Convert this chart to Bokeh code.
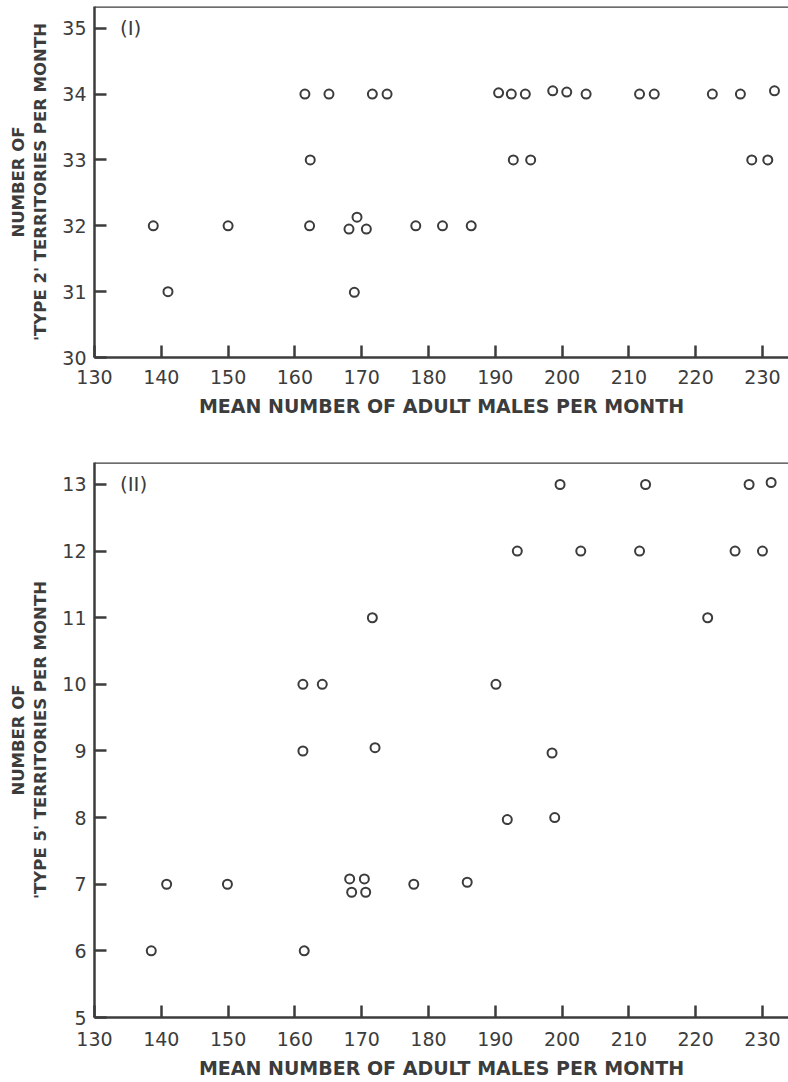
from bokeh.plotting import figure
from bokeh.layouts import column
from bokeh.models import Label, Span, FixedTicker
from bokeh.embed import file_html
from bokeh.resources import INLINE

# Panel (I): 'Type 2' territories
males_1 = [138.8, 141.0, 150.0, 161.5, 162.2, 162.3, 165.1, 168.1, 168.9, 169.3,
           170.7, 171.6, 173.8, 178.1, 182.1, 186.4, 190.5, 192.4, 192.7, 194.5,
           195.3, 198.6, 200.7, 203.6, 211.6, 213.8, 222.5, 226.7, 228.4, 230.8, 231.8]
type2 = [32, 31, 32, 34, 32, 33, 34, 31.95, 30.99, 32.13,
         31.95, 34, 34, 32, 32, 32, 34.02, 34, 33, 34,
         33, 34.05, 34.03, 34, 34, 34, 34, 34, 33, 33, 34.05]

# Panel (II): 'Type 5' territories
males_2 = [138.5, 140.8, 149.9, 161.2, 161.2, 161.4, 164.1, 168.2, 168.5, 170.4,
           170.6, 171.6, 172.0, 177.8, 185.8, 190.1, 191.8, 193.3, 198.5, 198.9,
           199.7, 202.8, 211.6, 212.5, 221.8, 225.9, 228.0, 230.0, 231.3]
type5 = [6, 7, 7, 10, 9, 6, 10, 7.08, 6.88, 7.08,
         6.88, 11, 9.05, 7, 7.03, 10, 7.97, 12, 8.97, 8,
         13, 12, 12, 13, 11, 12, 13, 12, 13.03]

x_ticks = [130, 140, 150, 160, 170, 180, 190, 200, 210, 220, 230]
y_ticks_1 = [30, 31, 32, 33, 34, 35]
y_ticks_2 = [5, 6, 7, 8, 9, 10, 11, 12, 13]

INK = "#3c3c3c"
FONT = "DejaVu Sans"


def make_panel(xs, ys, yrange, yticks, ylabel, tag, tag_y, height, top, bottom,
               xl_standoff, xt_standoff):
    p = figure(width=788, height=height, x_range=(130, 233.9), y_range=yrange,
               output_backend="svg", toolbar_location=None,
               min_border_left=94, min_border_right=0,
               min_border_top=top, min_border_bottom=bottom)
    p.outline_line_color = None
    p.grid.visible = False
    p.background_fill_color = "white"
    p.border_fill_color = "white"
    for ax in (p.xaxis[0], p.yaxis[0]):
        ax.axis_line_color = INK
        ax.axis_line_width = 2.5
        ax.major_tick_line_color = INK
        ax.major_tick_line_width = 2.5
        ax.major_tick_in = 12
        ax.major_tick_out = 0
        ax.minor_tick_line_color = None
        ax.major_label_text_font = FONT
        ax.major_label_text_font_size = "19px"
        ax.major_label_text_color = INK
        ax.axis_label_text_font = FONT
        ax.axis_label_text_font_style = "bold"
        ax.axis_label_text_color = INK
    p.xaxis.axis_label_text_font_size = "19px"
    p.yaxis.axis_label_text_font_size = "16.5px"
    p.xaxis.ticker = FixedTicker(ticks=x_ticks)
    p.yaxis.ticker = FixedTicker(ticks=yticks)
    p.xaxis.major_label_standoff = xl_standoff
    p.yaxis.major_label_standoff = 8
    p.xaxis.axis_label = "MEAN NUMBER OF ADULT MALES PER MONTH"
    p.xaxis.axis_label_standoff = xt_standoff
    p.yaxis.axis_label = ylabel
    p.yaxis.axis_label_standoff = 9
    p.add_layout(Span(location=yrange[1], dimension="width", line_color=INK, line_width=2.5))
    p.scatter(xs, ys, marker="circle", size=9, fill_color=None,
              line_color=INK, line_width=2)
    p.add_layout(Label(x=133.8, y=tag_y, text=tag, text_font=FONT,
                       text_font_size="20px", text_color=INK,
                       text_baseline="middle"))
    return p


p1 = make_panel(males_1, type2, (30, 35.33), y_ticks_1,
                "NUMBER OF\n'TYPE 2' TERRITORIES PER MONTH", "(I)", 35.0,
                420, 6, 63, 12, 8)
p2 = make_panel(males_2, type5, (5, 13.33), y_ticks_2,
                "NUMBER OF\n'TYPE 5' TERRITORIES PER MONTH", "(II)", 13.0,
                662, 42, 65, 14, 8)

layout = column(p1, p2, spacing=0)
open("out.html", "w").write(file_html(layout, INLINE))
